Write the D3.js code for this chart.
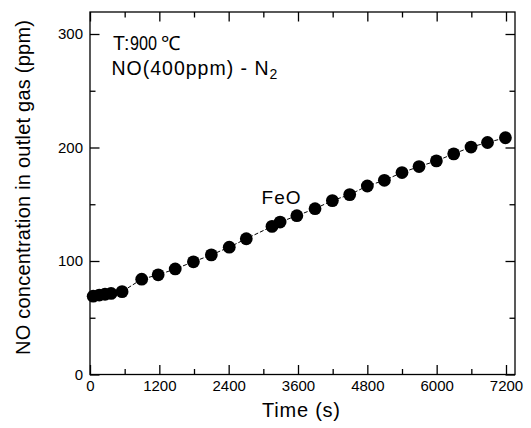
<!DOCTYPE html>
<html>
<head>
<meta charset="utf-8">
<script src="https://cdn.jsdelivr.net/npm/d3@7"></script>
<style>
  html, body { margin: 0; padding: 0; background: #fff; }
  svg { display: block; }
  text { font-family: "Liberation Sans", Arial, sans-serif; fill: #000; }
</style>
</head>
<body>
<svg id="chart" width="531" height="428"></svg>
<script>
// Outlet NO concentration over time (FeO, 900 °C)
const timeSec = [55, 160, 260, 365, 555, 895, 1180, 1475, 1790, 2100, 2410, 2705,
                 3150, 3290, 3580, 3895, 4195, 4495, 4800, 5095, 5400, 5695, 5995,
                 6295, 6595, 6880, 7190];
const noPpm = [69, 70, 70.7, 71.4, 73, 84, 87.8, 93, 99.3, 105.4, 112.2, 119.6,
               130.5, 134.3, 139.9, 146.1, 153.2, 158.5, 166.1, 171.1, 177.9, 183.2, 188.2,
               194.4, 200.4, 204.4, 208.6];

const xMajor = [0, 1200, 2400, 3600, 4800, 6000, 7200];
const xMinor = [600, 1800, 3000, 4200, 5400, 6600];
const yMajor = [0, 100, 200, 300];
const yMinor = [50, 150, 250];

const svg = d3.select("#chart");
const plotL = 90, plotR = 515, plotT = 12, plotB = 374.5;

const x = d3.scaleLinear().domain([0, 7200 * (plotR - plotL) / 416]).range([plotL, plotR]);
const y = d3.scaleLinear().domain([0, 300 * (plotB - plotT) / 340.5]).range([plotB, plotT]);

const majorLen = 9.5, minorLen = 5.5;

// frame
svg.append("rect")
  .attr("x", plotL).attr("y", plotT)
  .attr("width", plotR - plotL).attr("height", plotB - plotT)
  .attr("fill", "none").attr("stroke", "#000").attr("stroke-width", 1.3);

function styleAxis(g) {
  g.select(".domain").remove();
  g.selectAll(".tick line").attr("stroke", "#000").attr("stroke-width", 1.3);
  g.selectAll(".tick text").attr("font-size", 15)
    .attr("font-family", "Liberation Sans, Arial, sans-serif").attr("fill", "#000");
}

// bottom axis with labels, ticks pointing inward
svg.append("g").attr("transform", `translate(0,${plotB})`)
  .call(d3.axisBottom(x).tickValues(xMajor).tickSize(-majorLen).tickPadding(6).tickFormat(d3.format("d")))
  .call(styleAxis);
svg.append("g").attr("transform", `translate(0,${plotB})`)
  .call(d3.axisBottom(x).tickValues(xMinor).tickSize(-minorLen).tickFormat(""))
  .call(styleAxis);
// top axis ticks
svg.append("g").attr("transform", `translate(0,${plotT})`)
  .call(d3.axisTop(x).tickValues(xMajor).tickSize(-majorLen).tickFormat(""))
  .call(styleAxis);
svg.append("g").attr("transform", `translate(0,${plotT})`)
  .call(d3.axisTop(x).tickValues(xMinor).tickSize(-minorLen).tickFormat(""))
  .call(styleAxis);

// left axis with labels
svg.append("g").attr("transform", `translate(${plotL},0)`)
  .call(d3.axisLeft(y).tickValues(yMajor).tickSize(-majorLen).tickPadding(7).tickFormat(d3.format("d")))
  .call(styleAxis);
svg.append("g").attr("transform", `translate(${plotL},0)`)
  .call(d3.axisLeft(y).tickValues(yMinor).tickSize(-minorLen).tickFormat(""))
  .call(styleAxis);
// right axis ticks
svg.append("g").attr("transform", `translate(${plotR},0)`)
  .call(d3.axisRight(y).tickValues(yMajor).tickSize(-majorLen).tickFormat(""))
  .call(styleAxis);
svg.append("g").attr("transform", `translate(${plotR},0)`)
  .call(d3.axisRight(y).tickValues(yMinor).tickSize(-minorLen).tickFormat(""))
  .call(styleAxis);

// axis titles
svg.append("text")
  .attr("x", 262).attr("y", 417)
  .attr("font-size", 20)
  .attr("textLength", 78).attr("lengthAdjust", "spacing")
  .text("Time (s)");
svg.append("text")
  .attr("transform", `translate(29.5,355) rotate(-90)`)
  .attr("font-size", 20)
  .attr("textLength", 335).attr("lengthAdjust", "spacing")
  .text("NO concentration in outlet gas (ppm)");

// connecting line
const pts = timeSec.map((t, i) => [t, noPpm[i]]);
svg.append("path")
  .datum(pts)
  .attr("d", d3.line().x(d => x(d[0])).y(d => y(d[1])))
  .attr("fill", "none").attr("stroke", "#000").attr("stroke-width", 1)
  .attr("stroke-dasharray", "4,2");

// data points
svg.append("g").selectAll("circle")
  .data(pts)
  .join("circle")
  .attr("cx", d => x(d[0])).attr("cy", d => y(d[1]))
  .attr("r", 6.4).attr("fill", "#000");

// annotations
const t1 = svg.append("text").attr("y", 50).attr("font-size", 19.5);
t1.append("tspan").attr("x", 113).text("T");
t1.append("tspan").attr("x", 124).text(":");
t1.append("tspan").attr("x", 130)
  .attr("textLength", 27).attr("lengthAdjust", "spacingAndGlyphs").text("900");
t1.append("tspan").attr("x", 161).text("℃");

const t2 = svg.append("text").attr("y", 74.5).attr("font-size", 19.5);
t2.append("tspan").attr("x", 111.5)
  .attr("textLength", 157).attr("lengthAdjust", "spacing")
  .text("NO(400ppm) - N");
t2.append("tspan").attr("font-size", 14).attr("dy", 4).text("2");

svg.append("text").attr("x", 261.5).attr("y", 204).attr("font-size", 19)
  .attr("textLength", 39).attr("lengthAdjust", "spacing")
  .text("FeO");
</script>
</body>
</html>
